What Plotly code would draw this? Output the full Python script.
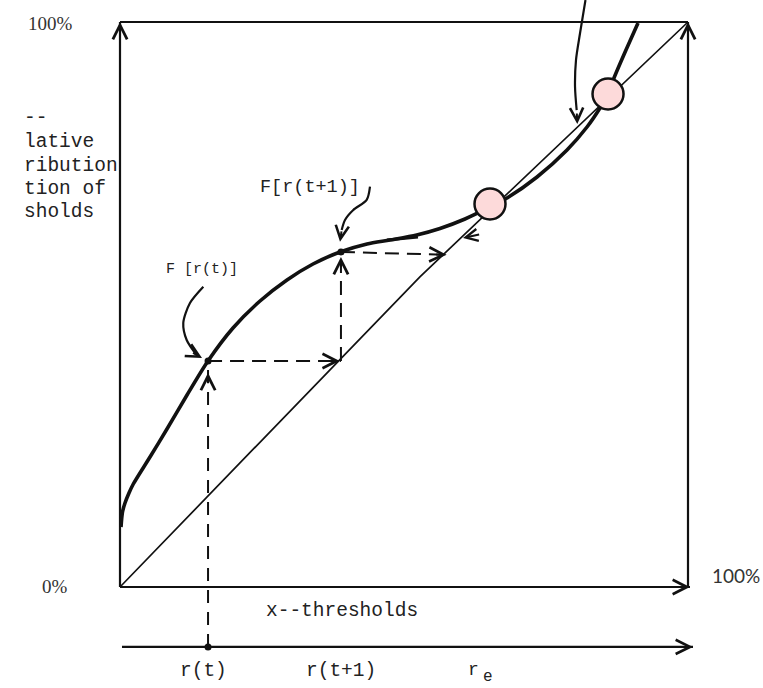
import math
import plotly.graph_objects as go

# unit square: 0 = 0%, 1 = 100% on both axes
curve_x = [0.0018, 0.0044, 0.0088, 0.0158, 0.0234, 0.0528, 0.0827, 0.1180, 0.1549, 0.1989,
           0.2465, 0.2940, 0.3398, 0.3873, 0.4349, 0.4754, 0.5224, 0.5634, 0.6074, 0.6514,
           0.6813, 0.7342, 0.7870, 0.8222, 0.8451, 0.8592, 0.8697, 0.8908, 0.9120]
curve_y = [0.1062, 0.1327, 0.1487, 0.1664, 0.1823, 0.2301, 0.2796, 0.3398, 0.4000, 0.4584,
           0.5062, 0.5434, 0.5717, 0.5929, 0.6071, 0.6142, 0.6230, 0.6345, 0.6513, 0.6726,
           0.6885, 0.7257, 0.7735, 0.8142, 0.8478, 0.8726, 0.9009, 0.9504, 0.9982]

diag_x = [0.0, 0.528, 1.0]
diag_y = [0.0, 0.549, 1.0]

equil_x = [0.6514, 0.8592]
equil_y = [0.6779, 0.8726]

r_t, r_t1, r_e = 0.155, 0.389, 0.6215
F_rt, F_rt1 = 0.400, 0.593
diag_hit_x, diag_hit_y = 0.575, 0.588
lower_axis_y = -0.106

left_label_lines = ["--", "lative", "ribution", "tion of", "sholds"]
left_label_y = [0.830, 0.7876, 0.7451, 0.7044, 0.6637]

# hand-drawn pointer arrows (label -> point)
ptr_rt_x = [0.1467, 0.1232, 0.1114, 0.1174, 0.1350, 0.1444]
ptr_rt_y = [0.5315, 0.5027, 0.4673, 0.4372, 0.4106, 0.4053]
ptr_rt1_x = [0.4401, 0.4343, 0.4107, 0.3961, 0.3903, 0.3873]
ptr_rt1_y = [0.7085, 0.6850, 0.6673, 0.6496, 0.6319, 0.6112]
ptr_top_x = [0.8195, 0.8099, 0.8028, 0.8011, 0.8040, 0.8051]
ptr_top_y = [1.0389, 0.9800, 0.9327, 0.8855, 0.8442, 0.8195]

INK = "#111"
TEXT = "#222"
MONO = "Liberation Mono, DejaVu Sans Mono, monospace"
PX_X, PX_Y = 568.0, 565.0  # pixels per unit, used only to size arrow heads

fig = go.Figure()


def line(x, y, width=2, dash=None, shape="linear"):
    fig.add_trace(go.Scatter(x=x, y=y, mode="lines", hoverinfo="skip",
                             line=dict(color=INK, width=width, dash=dash, shape=shape,
                                       smoothing=0.8 if shape == "spline" else None)))


def head(x0, y0, x1, y1, size=1.4, width=2, length=22):
    # arrow head at (x1, y1), pointing along (x0, y0) -> (x1, y1)
    dx, dy = (x1 - x0) * PX_X, (y1 - y0) * PX_Y
    n = math.hypot(dx, dy)
    ax = x1 - dx / n * length / PX_X
    ay = y1 - dy / n * length / PX_Y
    fig.add_annotation(x=x1, y=y1, ax=ax, ay=ay, xref="x", yref="y", axref="x", ayref="y",
                       text="", showarrow=True, arrowhead=5, arrowsize=size,
                       arrowwidth=width, arrowcolor=INK, standoff=0)


# frame
line([0, 0], [0, 1.0], 2.2)
line([0, 1.0], [1.0, 1.0], 2.2)
line([1.0, 1.0], [0, 1.0], 2.2)
line([0, 1.0035], [0, 0], 2.2)
line([0.0035, 1.0088], [lower_axis_y, lower_axis_y], 2.2)
head(0, 0.9, 0, 1.0)
head(1.0, 0.9, 1.0, 1.0)
head(0.9, 0, 1.0035, 0)
head(0.9, lower_axis_y, 1.0088, lower_axis_y)

# 45-degree line
line(diag_x, diag_y, 1.7)

# cobweb steps
DASH = "14px,8px"
line([r_t, r_t], [lower_axis_y, F_rt], 2, "13px,9px")
line([r_t, r_t1], [F_rt, F_rt], 2, DASH)
line([r_t1, r_t1], [F_rt, F_rt1], 2, DASH)
line([r_t1, diag_hit_x], [F_rt1, diag_hit_y], 2, DASH)
head(r_t, 0.3, r_t, 0.379, length=12)
head(r_t, F_rt, r_t1 - 0.002, F_rt, length=12)
head(r_t1, F_rt, r_t1, 0.584, length=12)
head(r_t1, F_rt1, diag_hit_x, diag_hit_y, length=12)
head(0.6373, 0.6248, 0.6039, 0.6177, 1.2, length=18)
line([0.470, 0.5246], [0.6142, 0.6195], 3)

# threshold distribution curve
line(curve_x, curve_y, 3.6, shape="spline")

# pointers
for px, py in [(ptr_rt_x, ptr_rt_y), (ptr_rt1_x, ptr_rt1_y), (ptr_top_x, ptr_top_y)]:
    line(px[:-1], py[:-1], 2.2, shape="spline")
    head(px[-2], py[-2], px[-1], py[-1], 1.3, length=12)

# dots at r(t), F[r(t)], F[r(t+1)]
fig.add_trace(go.Scatter(x=[r_t, r_t, r_t1], y=[lower_axis_y, F_rt, F_rt1], mode="markers",
                         hoverinfo="skip", marker=dict(color=INK, size=7)))

# equilibria
fig.add_trace(go.Scatter(x=equil_x, y=equil_y, mode="markers", hoverinfo="skip",
                         marker=dict(color="#FDDADA", size=31,
                                     line=dict(color=INK, width=2.5))))


def label(x, y, text, size=19, family=MONO, xanchor="center", color=TEXT):
    fig.add_annotation(x=x, y=y, xref="x", yref="y", text=text, showarrow=False,
                       xanchor=xanchor, yanchor="middle",
                       font=dict(family=family, size=size, color=color))


for txt, yy in zip(left_label_lines, left_label_y):
    label(-0.1725, yy, txt, 19.5, xanchor="left")

label(-0.1232, 0.9982, "100%", 19, "Liberation Serif, serif", color="#333")
label(-0.1144, 0.0009, "0%", 19, "Liberation Serif, serif", color="#333")
label(1.0845, 0.0195, "100%", 19, "Lato, sans-serif", color="#333")
label(0.39, -0.0425, "x--thresholds", 19.5)
label(0.1438, 0.5611, "F [r(t)]", 15)
label(0.3345, 0.7071, "F[r(t+1)]", 18.5)
label(r_t - 0.008, -0.1487, "r(t)", 19.5)
label(r_t1 + 0.0, -0.1487, "r(t+1)", 19.5)
label(r_e, -0.147, "r", 18)
label(r_e + 0.0255, -0.160, "e", 16)

fig.update_xaxes(range=[-0.21127, 1.13204], visible=False, fixedrange=True)
fig.update_yaxes(range=[-0.17876, 1.03894], visible=False, fixedrange=True)
fig.update_layout(width=763, height=688, margin=dict(l=0, r=0, t=0, b=0),
                  paper_bgcolor="white", plot_bgcolor="white", showlegend=False)

# page margin off so the figure sits at the window's top-left corner
fig.write_html("out.html", config={"displayModeBar": False},
               post_script="document.body.style.margin='0';")
